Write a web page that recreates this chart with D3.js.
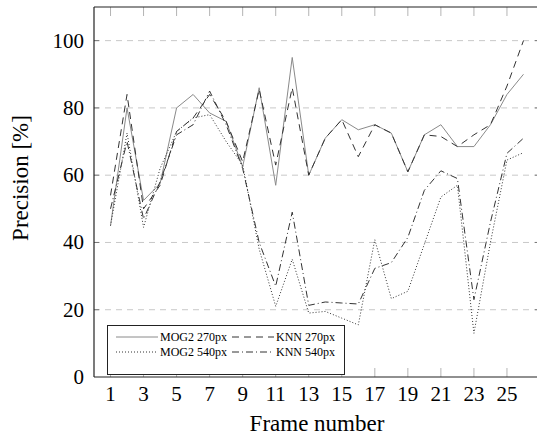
<!DOCTYPE html>
<html><head><meta charset="utf-8">
<script src="https://d3js.org/d3.v7.min.js"></script>
<style>body{margin:0;background:#fff}svg{display:block}</style>
</head><body>
<svg id="c" width="537" height="439" font-family="'Liberation Serif', 'DejaVu Serif', serif"></svg>
<script>
const frames = d3.range(1, 27);
const xTicks = [1,3,5,7,9,11,13,15,17,19,21,23,25];
const yTicks = [0,20,40,60,80,100];
const mog270 = [45,80,52.5,57.5,80,84,78.5,76,62.5,86,57,95,60,71,76.5,73.5,75,72.5,61,72,75,68.5,68.5,75,84,90];
const knn270 = [54,84,50,57,73,77,84,76,64,85.5,63,86,60,71,76.5,65.5,75,72.5,61,72,71.5,68.5,72,75,86.5,100];
const mog540 = [45,72.5,44.5,62,73,77,78,70,63,38,21,35,19,19.5,17.5,15.5,40.8,23.3,25.5,39.5,53.5,57,13,40,64.5,66.7];
const knn540 = [50,70,47,58,72,75,85,75,62,40,27,49,21.3,22.3,22,21.7,32.3,34,41.5,55.5,61.3,59,23,46,66.5,71];
const seriesNames = ["MOG2 270px","KNN 270px","MOG2 540px","KNN 540px"];

const svg = d3.select("#c");
const L=94, R=540, T=7, B=377;
const x = d3.scaleLinear().domain([0,27]).range([L,R]);
const y = d3.scaleLinear().domain([0,110]).range([B,T]);

svg.append("g").selectAll("line").data(yTicks.filter(d=>d>0)).join("line")
  .attr("x1",L).attr("x2",R).attr("y1",d=>y(d)).attr("y2",d=>y(d))
  .attr("stroke","#c8c8c8").attr("stroke-width",1).attr("stroke-dasharray","6,5");

const xt = svg.append("g");
xt.selectAll("line.b").data(xTicks).join("line").attr("class","b")
  .attr("x1",d=>x(d)).attr("x2",d=>x(d)).attr("y1",B).attr("y2",B-9)
  .attr("stroke","#b4b4b4").attr("stroke-width",1);
xt.selectAll("line.t").data(xTicks).join("line").attr("class","t")
  .attr("x1",d=>x(d)).attr("x2",d=>x(d)).attr("y1",T).attr("y2",T+9)
  .attr("stroke","#b4b4b4").attr("stroke-width",1);
svg.append("g").selectAll("line").data(yTicks.filter(d=>d>0)).join("line")
  .attr("x1",L).attr("x2",L+5).attr("y1",d=>y(d)).attr("y2",d=>y(d))
  .attr("stroke","#777").attr("stroke-width",1);
svg.append("g").selectAll("line").data(yTicks.filter(d=>d>0)).join("line")
  .attr("x1",R-5).attr("x2",R).attr("y1",d=>y(d)).attr("y2",d=>y(d))
  .attr("stroke","#777").attr("stroke-width",1);

const line = d3.line().x((d,i)=>x(frames[i])).y(d=>y(d));
const styles = [
  {data:mog270, stroke:"#8a8a8a", dash:null, w:1},
  {data:knn270, stroke:"#333", dash:"7,5", w:1},
  {data:mog540, stroke:"#333", dash:"1,2", w:1},
  {data:knn540, stroke:"#333", dash:"7,3,1,3", w:1}
];
styles.forEach(s=>{
  svg.append("path").attr("d",line(s.data)).attr("fill","none")
    .attr("stroke",s.stroke).attr("stroke-width",s.w)
    .attr("stroke-dasharray",s.dash).attr("stroke-linejoin","miter");
});

svg.append("line").attr("x1",L).attr("x2",L).attr("y1",T).attr("y2",B).attr("stroke","#222").attr("stroke-width",1.2);
svg.append("line").attr("x1",L).attr("x2",R).attr("y1",B).attr("y2",B).attr("stroke","#222").attr("stroke-width",1.2);
svg.append("line").attr("x1",L).attr("x2",R).attr("y1",T).attr("y2",T).attr("stroke","#222").attr("stroke-width",1.2);
svg.append("line").attr("x1",R).attr("x2",R).attr("y1",T).attr("y2",B).attr("stroke","#222").attr("stroke-width",1.2);

svg.append("g").selectAll("text").data(xTicks).join("text")
  .attr("x",d=>x(d)).attr("y",401).attr("text-anchor","middle").attr("font-size",21).text(d=>d);
svg.append("g").selectAll("text").data(yTicks).join("text")
  .attr("x",84).attr("y",d=>y(d)+7).attr("text-anchor","end").attr("font-size",21).text(d=>d);

svg.append("text").attr("x",317).attr("y",431).attr("text-anchor","middle").attr("font-size",23).text("Frame number");
svg.append("text").attr("transform","translate(28,178) rotate(-90)").attr("text-anchor","middle").attr("font-size",23).text("Precision [%]");

const lg = svg.append("g");
lg.append("rect").attr("x",107.5).attr("y",325.5).attr("width",237).attr("height",49)
  .attr("fill","#fff").attr("stroke","#222").attr("stroke-width",1);
const pos = [[116,337],[232,337],[116,352],[232,352]];
seriesNames.forEach((n,i)=>{
  const s = styles[i], p = pos[i];
  lg.append("line").attr("x1",p[0]).attr("x2",p[0]+42).attr("y1",p[1]).attr("y2",p[1])
    .attr("stroke",s.stroke).attr("stroke-width",1).attr("stroke-dasharray",s.dash);
  lg.append("text").attr("x",p[0]+44).attr("y",p[1]+4).attr("font-size",12).text(n);
});
</script>
</body></html>
